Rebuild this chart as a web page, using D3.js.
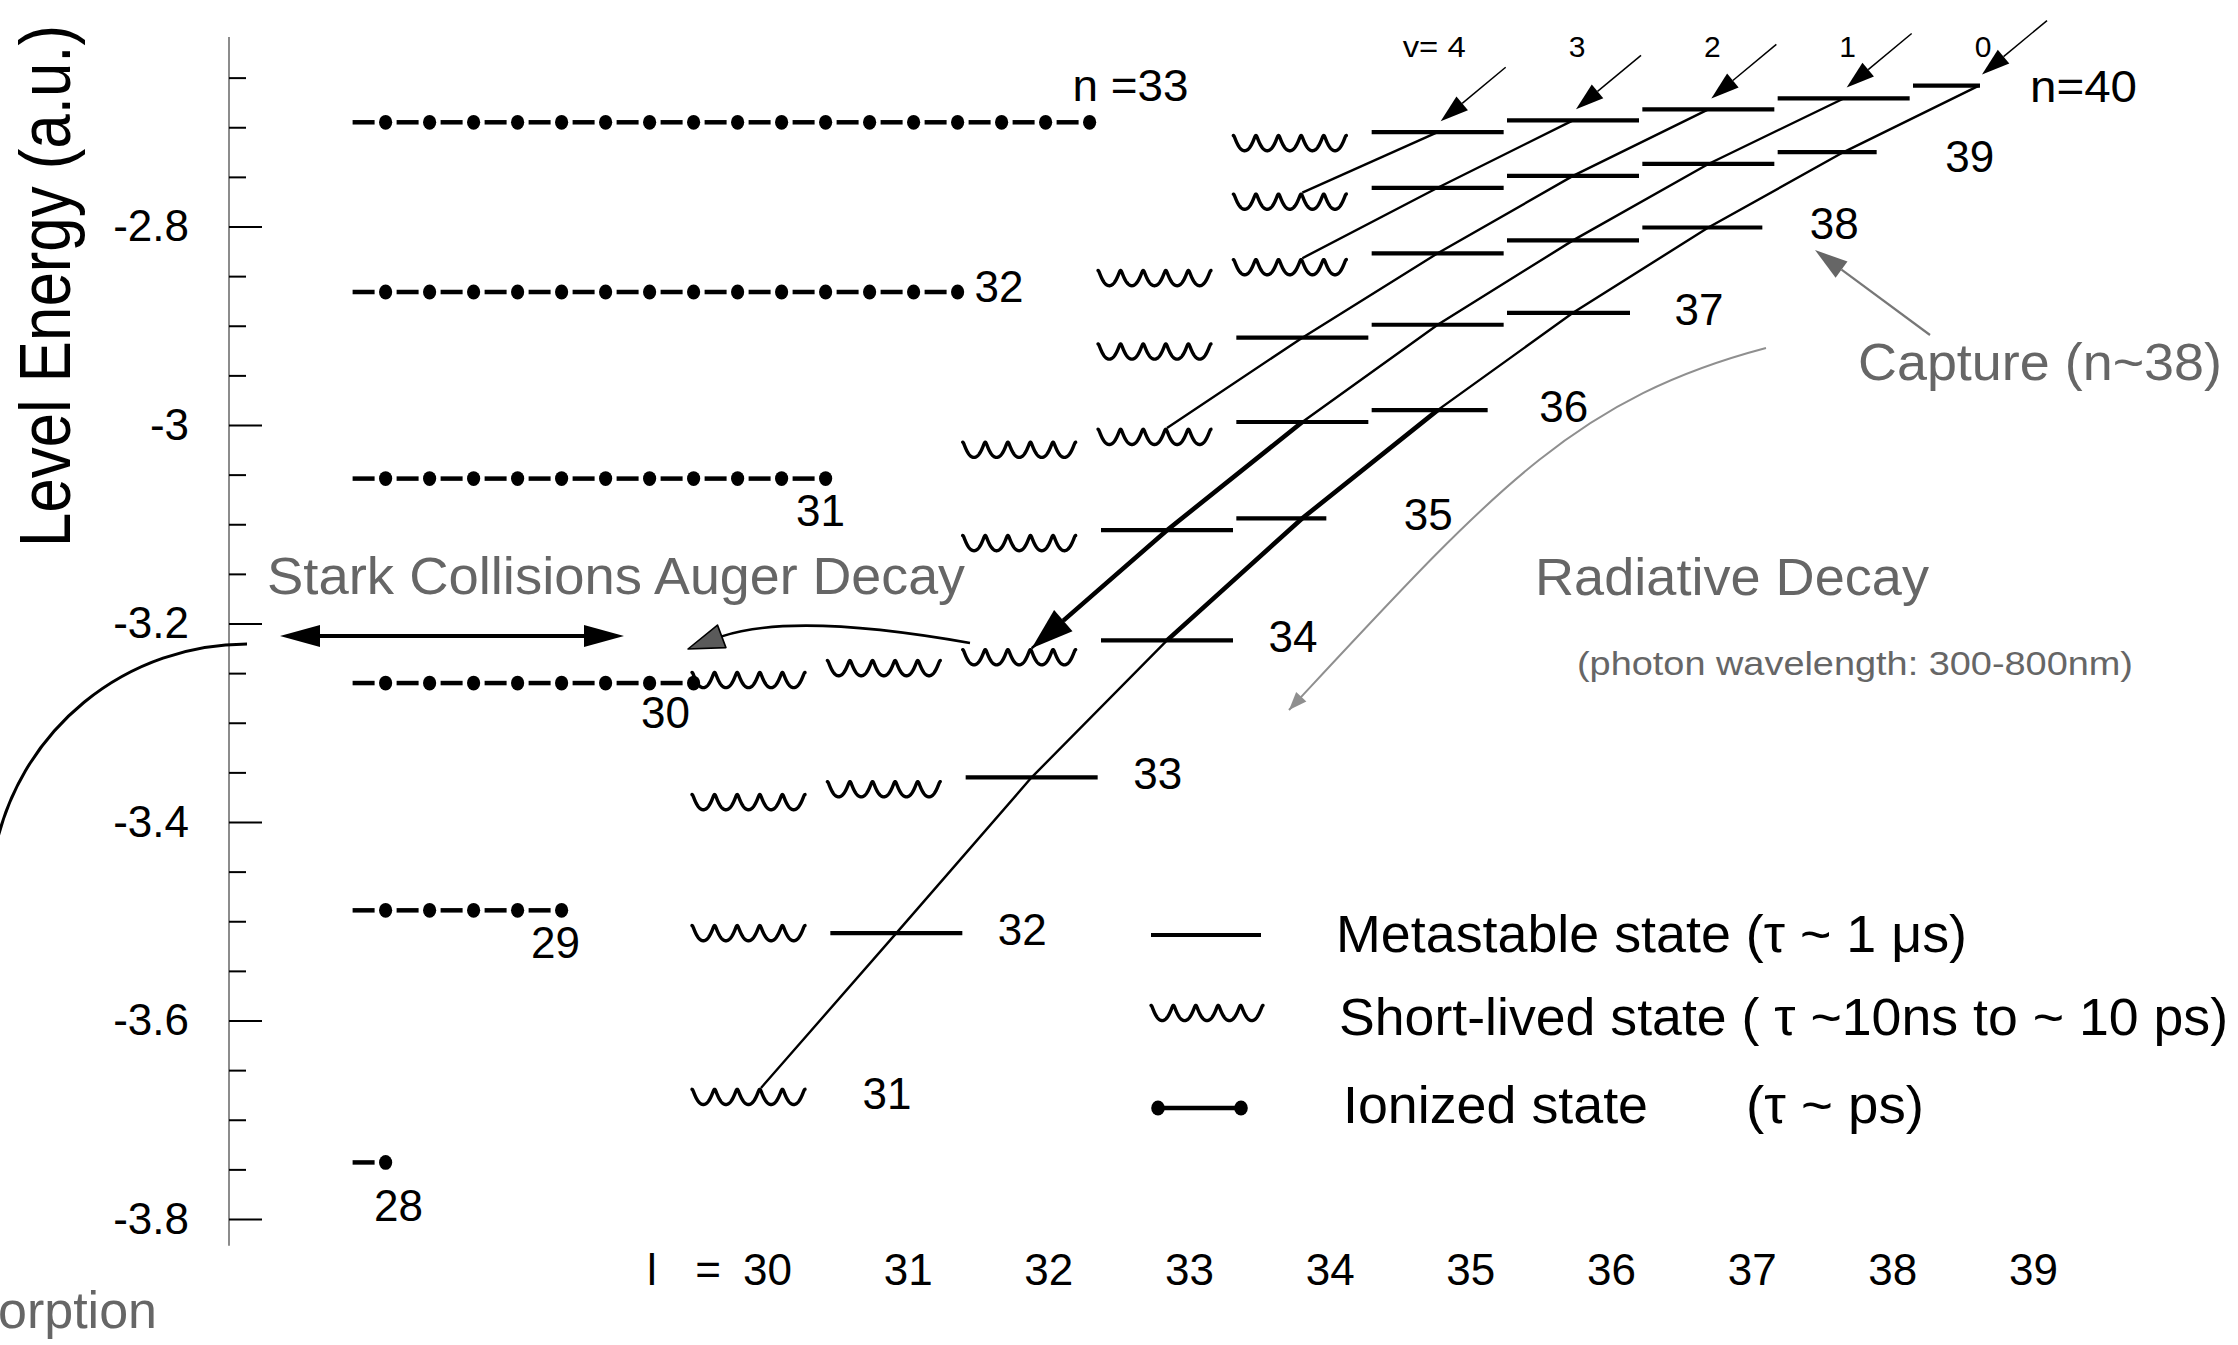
<!DOCTYPE html>
<html>
<head>
<meta charset="utf-8">
<script src="https://cdn.jsdelivr.net/npm/d3@7"></script>
<style>
  html, body { margin: 0; padding: 0; background: #fff; }
  svg { display: block; }
  text { font-family: "Liberation Sans", Arial, Helvetica, sans-serif; }
</style>
</head>
<body>
<svg id="chart" width="2238" height="1345"></svg>
<script>
// ---------------- data ----------------
// Ionized states reached by Auger decay (left ladder)
const ionN     = [33, 32, 31, 30, 29, 28];
const ionE     = [-2.695, -2.866, -3.054, -3.260, -3.489, -3.743];
const ionCount = [17, 14, 11, 8, 5, 1];

// Bound (n, l) states of the cascade: M = metastable, S = short-lived
const levN = [40, 40, 40, 40, 40, 40,
              39, 39, 39, 39, 39,
              38, 38, 38, 38, 38,
              37, 37, 37, 37,
              36, 36, 36, 36,
              35, 35, 35,
              34, 34, 34, 34,
              33, 33, 33,
              32, 32,
              31];
const levL = [34, 35, 36, 37, 38, 39,
              34, 35, 36, 37, 38,
              33, 34, 35, 36, 37,
              33, 34, 35, 36,
              32, 33, 34, 35,
              32, 33, 34,
              30, 31, 32, 33,
              30, 31, 32,
              30, 31,
              30];
const levE = [-2.716, -2.705, -2.693, -2.682, -2.671, -2.658,
              -2.775, -2.761, -2.749, -2.737, -2.725,
              -2.852, -2.841, -2.827, -2.814, -2.801,
              -2.926, -2.912, -2.899, -2.887,
              -3.025, -3.012, -2.997, -2.985,
              -3.119, -3.106, -3.094,
              -3.257, -3.245, -3.234, -3.217,
              -3.380, -3.367, -3.355,
              -3.512, -3.512,
              -3.677];
const levKind = ["S", "M", "M", "M", "M", "M",
                 "S", "M", "M", "M", "M",
                 "S", "S", "M", "M", "M",
                 "S", "M", "M", "M",
                 "S", "S", "M", "M",
                 "S", "M", "M",
                 "S", "S", "S", "M",
                 "S", "S", "M",
                 "S", "M",
                 "S"];

// Vibrational quantum numbers v = n - l - 1 fed at n = 40
const vQuantum = [4, 3, 2, 1, 0];
// Orbital quantum numbers along the bottom
const lValues = [30, 31, 32, 33, 34, 35, 36, 37, 38, 39];
// Highlighted radiative cascade (v chains, from n to n)
const cascadeV = [0, 1];
const cascadeTop = 36, cascadeBottom = 34;

// Energy axis ticks
const majorTicks = [-2.8, -3.0, -3.2, -3.4, -3.6, -3.8];
const minorTicks = [-2.65, -2.7, -2.75, -2.85, -2.9, -2.95, -3.05, -3.1, -3.15,
                    -3.25, -3.3, -3.35, -3.45, -3.5, -3.55, -3.65, -3.7, -3.75];

// ---------------- layout ----------------
const svg = d3.select("#chart");
const y    = d3.scaleLinear().domain([-2.8, -3.8]).range([226.5, 1219]);
const xCol = d3.scaleLinear().domain([30, 39]).range([761, 1979]);
const xTick = d3.scaleLinear().domain([30, 39]).range([767, 2033]);
const xDot = d3.scaleLinear().domain([0, 16]).range([385.6, 1089.6]);

const GRAY_TEXT = "#666666";
const line = d3.line();

function head(tip, from, len, hw) {
  const dx = tip[0] - from[0], dy = tip[1] - from[1];
  const d = Math.hypot(dx, dy), ux = dx / d, uy = dy / d;
  const bx = tip[0] - ux * len, by = tip[1] - uy * len;
  return { pts: [[tip[0], tip[1]], [bx - uy * hw, by + ux * hw], [bx + uy * hw, by - ux * hw]], base: [bx, by] };
}
// short-lived state glyph: a run of hooked "u" loops (curtate trochoid)
function wiggle(x0, x1, yc) {
  const periods = 5, A = 7.6;
  const r = (x1 - x0) / (2 * Math.PI * periods + 0.0), k = 0.55 * r;
  const pts = [];
  const tMax = 2 * Math.PI * periods;
  for (let t = 0; t <= tMax + 1e-6; t += 0.05) {
    pts.push([x0 + r * t - k * Math.sin(t), yc - A * Math.cos(t)]);
  }
  return line(pts);
}
function addText(g, str, x, yy, size, opts = {}) {
  const t = g.append("text").attr("x", x).attr("y", yy).attr("font-size", size)
    .attr("fill", opts.fill || "#000").attr("text-anchor", opts.anchor || "start").text(str);
  if (opts.width) t.attr("textLength", opts.width).attr("lengthAdjust", "spacingAndGlyphs");
  return t;
}

// ---------------- energy axis ----------------
const gAxis = svg.append("g").attr("transform", "translate(229,0)");
gAxis.append("line").attr("x1", 0).attr("x2", 0)
  .attr("y1", y(-2.609)).attr("y2", y(-3.827))
  .attr("stroke", "#8c8c8c").attr("stroke-width", 2);
gAxis.append("g").call(d3.axisRight(y).tickValues(minorTicks).tickSize(17).tickFormat(""))
  .call(g => g.select(".domain").remove())
  .call(g => g.selectAll("line").attr("stroke", "#000").attr("stroke-width", 2));
gAxis.append("g").call(d3.axisRight(y).tickValues(majorTicks).tickSize(33).tickFormat(""))
  .call(g => g.select(".domain").remove())
  .call(g => g.selectAll("line").attr("stroke", "#000").attr("stroke-width", 2));
gAxis.append("g").call(d3.axisLeft(y).tickValues(majorTicks).tickSize(0).tickPadding(40).tickFormat(d => String(d)))
  .call(g => g.select(".domain").remove())
  .call(g => g.selectAll("text").attr("font-size", 44).attr("fill", "#000")
    .attr("font-family", "'Liberation Sans', Arial, sans-serif"));

svg.append("text").attr("transform", "translate(70,286) rotate(-90)")
  .attr("text-anchor", "middle").attr("font-size", 72)
  .attr("textLength", 522).attr("lengthAdjust", "spacingAndGlyphs")
  .text("Level Energy (a.u.)");

// ---------------- ionized ladder ----------------
const gIon = svg.append("g");
ionN.forEach((n, i) => {
  const yy = y(ionE[i]);
  const idx = d3.range(ionCount[i]);
  gIon.selectAll(null).data(idx).join("line")
    .attr("x1", k => xDot(k) - 33).attr("x2", k => xDot(k) - 11)
    .attr("y1", yy).attr("y2", yy).attr("stroke", "#000").attr("stroke-width", 4.5);
  gIon.selectAll(null).data(idx).join("ellipse")
    .attr("cx", k => xDot(k)).attr("cy", yy).attr("rx", 6.6).attr("ry", 7.4).attr("fill", "#000");
});
// labels of the ionized ladder
const ionLabelPos = { 31: [-5, 47], 30: [-28, 45], 29: [-6, 48], 28: [13, 59] };
ionN.forEach((n, i) => {
  const last = xDot(ionCount[i] - 1), yy = y(ionE[i]);
  if (n === 33) addText(gIon, "n =33", last - 17, yy - 21, 44, { width: 116 });
  else if (n === 32) addText(gIon, "32", last + 17, yy + 10, 44);
  else addText(gIon, String(n), last + ionLabelPos[n][0], yy + ionLabelPos[n][1], 44, { anchor: "middle" });
});

// ---------------- bound levels ----------------
const levels = levN.map((n, i) => ({ n, l: levL[i], e: levE[i], kind: levKind[i], v: n - levL[i] - 1 }));
const rowTopL = d3.rollup(levels, v => d3.max(v, d => d.l), d => d.n);
const shortRight = { 40: 1, 39: 33, 38: 54, 37: 57, 36: 50, 35: 24 };

const gLev = svg.append("g");
levels.filter(d => d.kind === "M").forEach(d => {
  const xc = xCol(d.l);
  const right = (d.l === rowTopL.get(d.n) && shortRight[d.n] !== undefined) ? shortRight[d.n] : 66;
  gLev.append("line").attr("x1", xc - 66).attr("x2", xc + right)
    .attr("y1", y(d.e)).attr("y2", y(d.e)).attr("stroke", "#000").attr("stroke-width", 4.2);
});
levels.filter(d => d.kind === "S").forEach(d => {
  const xc = xCol(d.l);
  gLev.append("path").attr("d", wiggle(xc - 69, xc + 44, y(d.e)))
    .attr("fill", "none").attr("stroke", "#000").attr("stroke-width", 3.4)
    .attr("stroke-linecap", "round").attr("stroke-linejoin", "round");
});

// diagonal v-chains: from n = 40 down to the first short-lived state
function chainOf(v) {
  const c = levels.filter(d => d.v === v).sort((a, b) => b.n - a.n);
  const out = [];
  for (const d of c) { out.push(d); if (d.kind === "S") break; }
  return out;
}
const pt = d => [xCol(d.l), y(d.e) - (d.kind === "S" ? 9 : 0)];
const gDiag = svg.append("g");
vQuantum.forEach(v => {
  gDiag.append("path").attr("d", line(chainOf(v).map(pt)))
    .attr("fill", "none").attr("stroke", "#000").attr("stroke-width", 2.4);
});
// highlighted cascade
cascadeV.forEach(v => {
  const seg = chainOf(v).filter(d => d.n <= cascadeTop && d.n >= cascadeBottom).map(pt);
  const endsShort = chainOf(v).some(d => d.n === cascadeBottom && d.kind === "S");
  if (endsShort) {
    const tip = seg[seg.length - 1];
    const h = head(tip, seg[seg.length - 2], 42, 14);
    const body = seg.slice(0, -1).concat([h.base]);
    gDiag.append("path").attr("d", line(body)).attr("fill", "none").attr("stroke", "#000").attr("stroke-width", 4.6);
    gDiag.append("polygon").attr("points", h.pts.join(" ")).attr("fill", "#000");
  } else {
    gDiag.append("path").attr("d", line(seg)).attr("fill", "none").attr("stroke", "#000").attr("stroke-width", 4.6);
  }
});

// feeding arrows with v labels
const gV = svg.append("g");
vQuantum.forEach(v => {
  const top = chainOf(v)[0];
  const tip = [xCol(top.l) + 3, y(top.e) - 11];
  const tail = [tip[0] + 65, tip[1] - 54];
  const h = head(tip, tail, 28, 9);
  gV.append("line").attr("x1", tail[0]).attr("y1", tail[1]).attr("x2", h.base[0]).attr("y2", h.base[1])
    .attr("stroke", "#000").attr("stroke-width", 1.5);
  gV.append("polygon").attr("points", h.pts.join(" ")).attr("fill", "#000");
  if (v === 4) addText(gV, "v= 4", xCol(top.l) + 28, 57, 30, { anchor: "end", width: 63 });
  else addText(gV, String(v), xCol(top.l) + 4, 57, 30, { anchor: "middle" });
});

// principal quantum number labels
const rowLabelDy = { 39: 20 };
const gRow = svg.append("g");
Array.from(rowTopL.keys()).forEach(n => {
  const l = rowTopL.get(n);
  const e = levels.find(d => d.n === n && d.l === l).e;
  if (n === 40) addText(gRow, "n=40", xCol(l) + 51, y(e) + 16, 44, { width: 107 });
  else addText(gRow, String(n), xCol(l) + 126, y(e) + (rowLabelDy[n] || 12), 44, { anchor: "middle" });
});

// orbital quantum number axis
const gX = svg.append("g").attr("transform", "translate(0,1285)");
gX.call(d3.axisBottom(xTick).tickValues(lValues).tickSize(0).tickPadding(0).tickFormat(d => String(d)))
  .call(g => g.select(".domain").remove())
  .call(g => g.selectAll("text").attr("y", 0).attr("dy", 0).attr("font-size", 44).attr("fill", "#000")
    .attr("font-family", "'Liberation Sans', Arial, sans-serif"));
addText(svg, "l", 652, 1285, 44, { anchor: "middle" });
addText(svg, "=", 708, 1285, 44, { anchor: "middle" });

// ---------------- processes ----------------
const gProc = svg.append("g");
// absorption
gProc.append("path").attr("d", `M -5 ${901 - Math.sqrt(257 * 257 - 252 * 252)} A 257 257 0 0 1 247 644`)
  .attr("fill", "none").attr("stroke", "#000").attr("stroke-width", 3);
addText(gProc, "Absorption", 157, 1328, 52, { anchor: "end", fill: GRAY_TEXT });

// Stark collisions (double arrow)
{
  const yS = 636, a = [280, yS], b = [624, yS];
  const ha = head(a, b, 40, 11), hb = head(b, a, 40, 11);
  gProc.append("line").attr("x1", ha.base[0]).attr("x2", hb.base[0]).attr("y1", yS).attr("y2", yS)
    .attr("stroke", "#000").attr("stroke-width", 4);
  gProc.append("polygon").attr("points", ha.pts.join(" ")).attr("fill", "#000");
  gProc.append("polygon").attr("points", hb.pts.join(" ")).attr("fill", "#000");
}
addText(gProc, "Stark Collisions", 267, 594, 51, { fill: GRAY_TEXT, width: 375 });
addText(gProc, "Auger Decay", 654, 594, 51, { fill: GRAY_TEXT, width: 311 });

// Auger decay (curved arrow to the ionized ladder)
{
  const tip = [688, 649];
  const h = head(tip, [720, 637], 36, 12);
  gProc.append("path").attr("d", `M970,643 Q795,612 ${h.base[0]},${h.base[1]}`)
    .attr("fill", "none").attr("stroke", "#000").attr("stroke-width", 2.6);
  gProc.append("polygon").attr("points", h.pts.join(" "))
    .attr("fill", "#5a5a5a").attr("stroke", "#000").attr("stroke-width", 1.6).attr("stroke-linejoin", "round");
}

// capture
{
  const tip = [1815, 250], tail = [1930, 335];
  const h = head(tip, tail, 33, 10);
  gProc.append("line").attr("x1", tail[0]).attr("y1", tail[1]).attr("x2", h.base[0]).attr("y2", h.base[1])
    .attr("stroke", "#777").attr("stroke-width", 2.2);
  gProc.append("polygon").attr("points", h.pts.join(" ")).attr("fill", "#666");
}
addText(gProc, "Capture (n~38)", 1858, 380, 52, { fill: GRAY_TEXT, width: 364 });

// radiative decay
{
  const tip = [1289, 710];
  gProc.append("path").attr("d", "M1766,348 C1573,399 1493,491 1289,710")
    .attr("fill", "none").attr("stroke", "#8f8f8f").attr("stroke-width", 2);
  gProc.append("polygon").attr("points", head(tip, [tip[0] + 68.2, tip[1] - 73.2], 18, 7).pts.join(" ")).attr("fill", "#8f8f8f");
}
addText(gProc, "Radiative Decay", 1535, 595, 51, { fill: GRAY_TEXT, width: 394 });
addText(gProc, "(photon wavelength: 300-800nm)", 1577, 675, 33, { fill: GRAY_TEXT, width: 556 });

// ---------------- legend ----------------
const gLeg = svg.append("g");
gLeg.append("line").attr("x1", 1151).attr("x2", 1261).attr("y1", 935).attr("y2", 935)
  .attr("stroke", "#000").attr("stroke-width", 4.2);
gLeg.append("path").attr("d", wiggle(1151, 1263, 1013))
  .attr("fill", "none").attr("stroke", "#000").attr("stroke-width", 3.4)
  .attr("stroke-linecap", "round").attr("stroke-linejoin", "round");
gLeg.append("line").attr("x1", 1158).attr("x2", 1241).attr("y1", 1108).attr("y2", 1108)
  .attr("stroke", "#000").attr("stroke-width", 4.5);
gLeg.selectAll(null).data([1158, 1241]).join("ellipse")
  .attr("cx", d => d).attr("cy", 1108).attr("rx", 6.8).attr("ry", 7.6).attr("fill", "#000");
addText(gLeg, "Metastable state (\u03C4 ~ 1 \u03BCs)", 1336, 952, 51, { width: 631 });
addText(gLeg, "Short-lived state ( \u03C4 ~10ns to ~ 10 ps)", 1339, 1035, 51, { width: 889 });
addText(gLeg, "Ionized state", 1343, 1123, 51, { width: 305 });
addText(gLeg, "(\u03C4 ~ ps)", 1746, 1123, 51, { width: 178 });
</script>
</body>
</html>
